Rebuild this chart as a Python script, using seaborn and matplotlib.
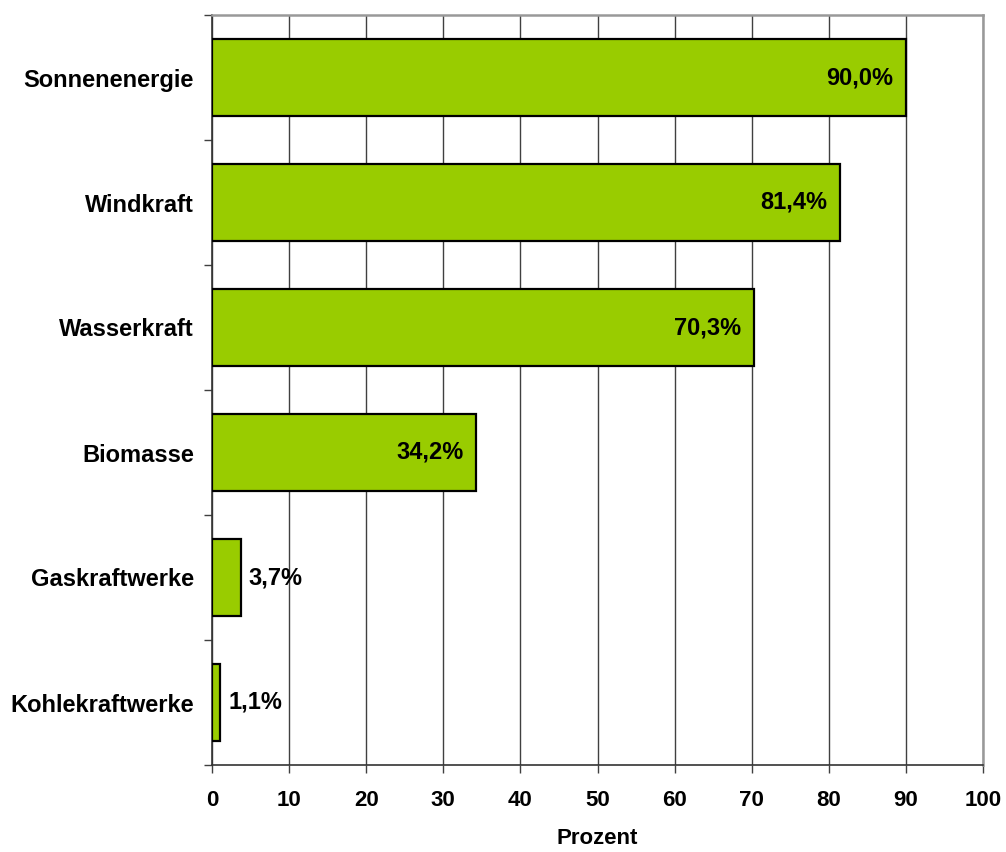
import matplotlib
matplotlib.use("Agg")
import matplotlib.pyplot as plt
import seaborn as sns
import pandas as pd

categories = ["Sonnenenergie", "Windkraft", "Wasserkraft", "Biomasse", "Gaskraftwerke", "Kohlekraftwerke"]
values = [90.0, 81.4, 70.3, 34.2, 3.7, 1.1]
value_labels = ["90,0%", "81,4%", "70,3%", "34,2%", "3,7%", "1,1%"]
x_ticks = [0, 10, 20, 30, 40, 50, 60, 70, 80, 90, 100]
x_label = "Prozent"

sns.set_style("white")
plt.rcParams['font.family'] = ['Liberation Sans', 'DejaVu Sans']
plt.rcParams['text.color'] = 'black'
plt.rcParams['xtick.color'] = 'black'
plt.rcParams['ytick.color'] = 'black'
plt.rcParams['axes.labelcolor'] = 'black'

df = pd.DataFrame({"cat": categories, "val": values})

fig = plt.figure(figsize=(10.06, 8.52), dpi=100)
ax = fig.add_axes([212/1006, 1 - 765/852, (983-212)/1006, (765-15)/852])

sns.barplot(data=df, x="val", y="cat", orient="h", color="#99CC00", saturation=1,
            width=0.62, edgecolor="black", linewidth=1.6, ax=ax, zorder=3)

ax.set_xlim(0, 100)
ax.set_ylim(5.5, -0.5)
ax.set_xticks(x_ticks)
ax.set_xticklabels([str(t) for t in x_ticks], fontsize=16, fontweight="bold")
ax.xaxis.grid(True, color="#404040", linewidth=1.0, zorder=0)
ax.set_axisbelow(True)

ax.set_yticks([i for i in range(len(categories))])
ax.set_yticklabels(categories, fontsize=17, fontweight="bold")
ax.tick_params(axis="y", length=0, pad=13)
ax.set_yticks([i - 0.5 for i in range(len(categories) + 1)], minor=True)
ax.tick_params(axis="y", which="minor", length=6, width=1, color="#404040", direction="out", left=True)
ax.tick_params(axis="x", length=6, width=1, color="#404040", labelcolor="black",
               direction="out", bottom=True, pad=12)

ax.set_xlabel(x_label, fontsize=16, fontweight="bold", labelpad=12)
ax.set_ylabel("")

for s in ["top", "right"]:
    ax.spines[s].set_color("#999999")
    ax.spines[s].set_linewidth(1.8)
for s in ["left", "bottom"]:
    ax.spines[s].set_color("#333333")
    ax.spines[s].set_linewidth(1.2)

for i, (v, lab) in enumerate(zip(values, value_labels)):
    if v > 10:
        ax.annotate(lab, (v, i), xytext=(-9, 0), textcoords="offset points",
                    ha="right", va="center", fontsize=17, fontweight="bold", zorder=5)
    else:
        ax.annotate(lab, (v, i), xytext=(6, 0), textcoords="offset points",
                    ha="left", va="center", fontsize=17, fontweight="bold", zorder=5)

fig.savefig("out.png", dpi=100)
